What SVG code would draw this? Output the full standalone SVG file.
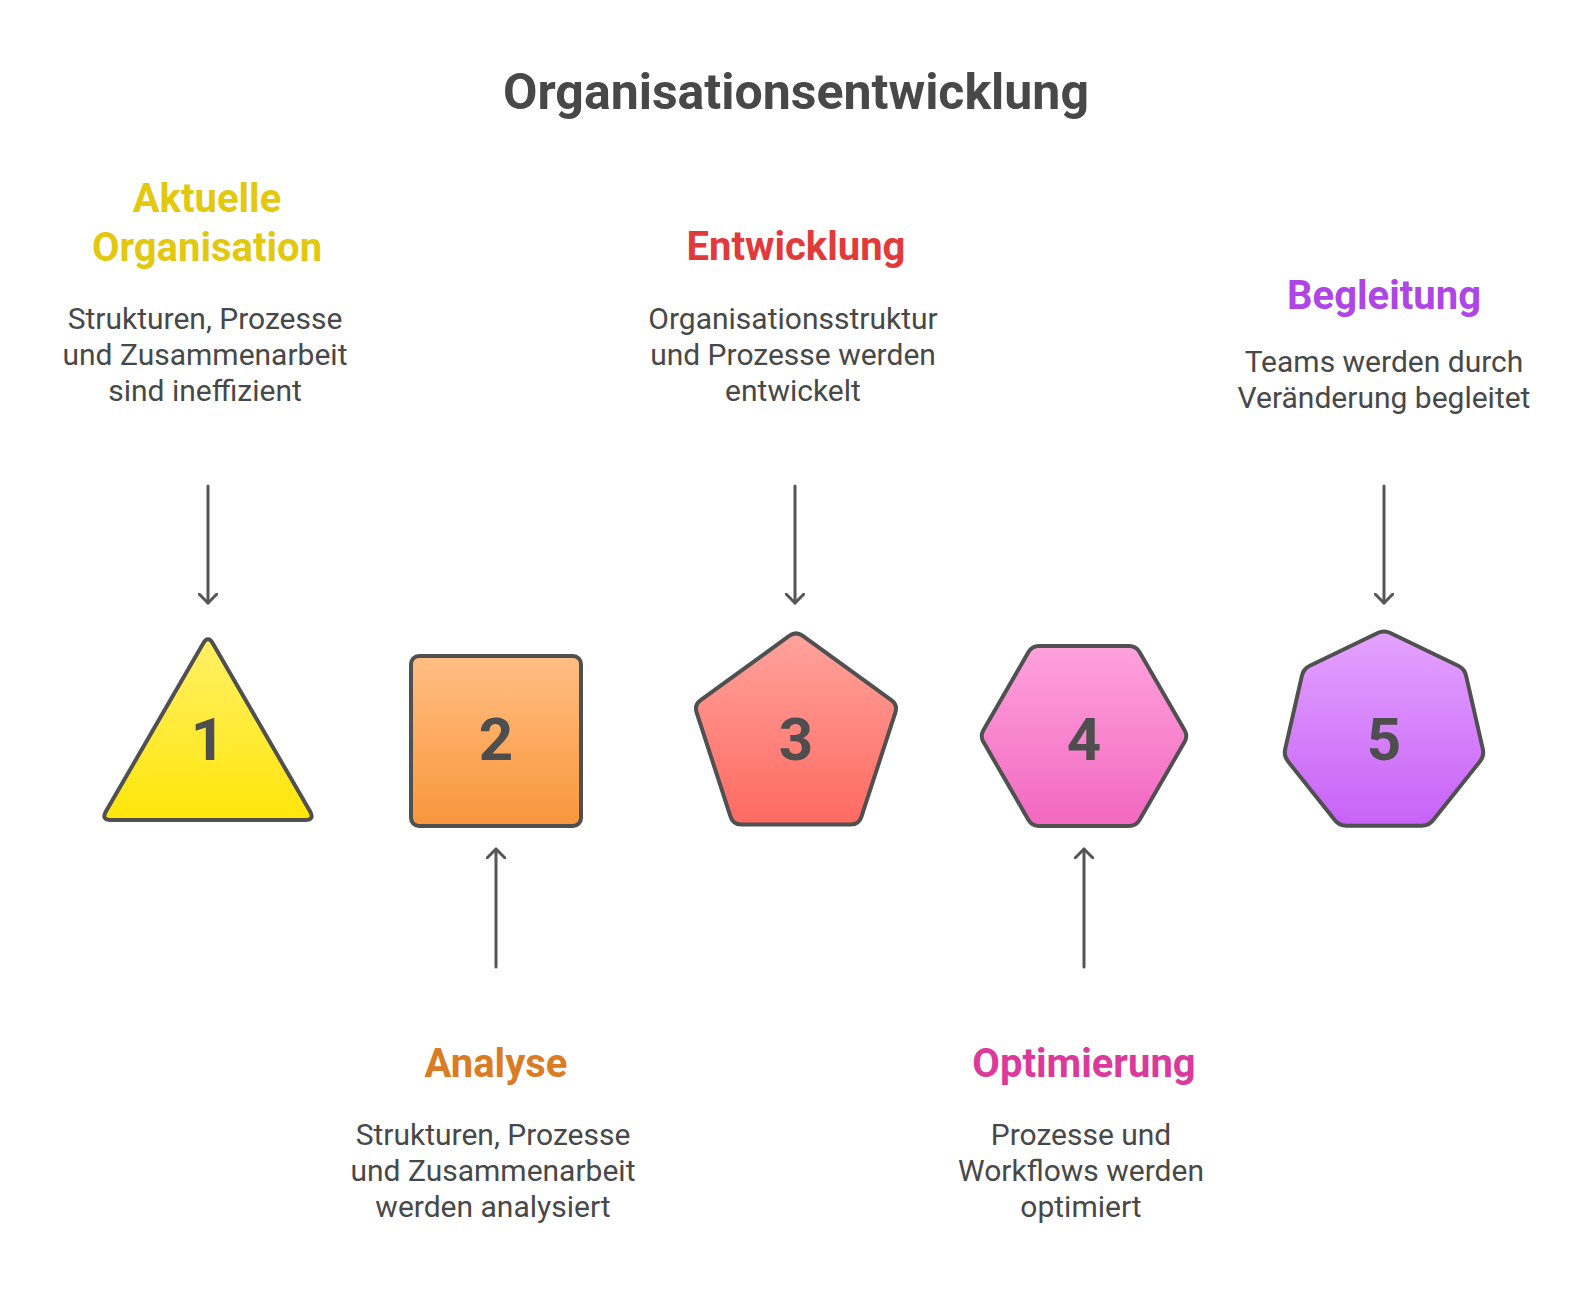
<svg xmlns="http://www.w3.org/2000/svg" width="1596" height="1298" viewBox="0 0 1596 1298">
  <defs>
    <linearGradient id="g1" x1="0" y1="0" x2="0" y2="1"><stop offset="0" stop-color="#FFF066"/><stop offset="1" stop-color="#FFE60A"/></linearGradient>
    <linearGradient id="g2" x1="0" y1="0" x2="0" y2="1"><stop offset="0" stop-color="#FFBE82"/><stop offset="1" stop-color="#F9973B"/></linearGradient>
    <linearGradient id="g3" x1="0" y1="0" x2="0" y2="1"><stop offset="0" stop-color="#FFA39C"/><stop offset="1" stop-color="#FF6A62"/></linearGradient>
    <linearGradient id="g4" x1="0" y1="0" x2="0" y2="1"><stop offset="0" stop-color="#FFA2DD"/><stop offset="1" stop-color="#F268C0"/></linearGradient>
    <linearGradient id="g5" x1="0" y1="0" x2="0" y2="1"><stop offset="0" stop-color="#E4A3FF"/><stop offset="1" stop-color="#C862F8"/></linearGradient>
    <marker id="ah" viewBox="0 0 20 20" refX="10" refY="10" markerWidth="20" markerHeight="20" markerUnits="userSpaceOnUse" orient="auto">
      <path d="M0,0 L10,10 L0,20" fill="none" stroke="#555555" stroke-width="3" stroke-linecap="round" stroke-linejoin="round"/>
    </marker>
  </defs>
  <style>
    .title { font-family: Roboto, "Liberation Sans", sans-serif; font-weight: 700; font-size: 50px; fill: #484848; text-anchor: middle; }
    .head { font-family: Roboto, "Liberation Sans", sans-serif; font-weight: 700; font-size: 40px; text-anchor: middle; }
    .body { font-family: Roboto, "Liberation Sans", sans-serif; font-weight: 400; font-size: 30px; fill: #484848; text-anchor: middle; }
    .num { font-family: Roboto, "Liberation Sans", sans-serif; font-weight: 700; font-size: 60px; fill: #4E4E4E; text-anchor: middle; }
    .shape { stroke: #505050; stroke-width: 4; stroke-linejoin: round; }
    .conn { stroke: #555555; stroke-width: 3; fill: none; stroke-linecap: round; marker-end: url(#ah); }
  </style>
  <rect width="1596" height="1298" fill="#FFFFFF"/>
  <text class="title" x="796" y="109">Organisationsentwicklung</text>

  <g id="node1">
    <path class="shape" fill="url(#g1)" d="M213.0,643.7 L310.0,811.3 Q315,820 305,820 L111,820 Q101,820 106.0,811.3 L203.0,643.7 Q208,635 213.0,643.7 Z"/>
    <text class="num" x="208" y="760">1</text>
    <text class="head" fill="#E3C810"><tspan x="207" y="212">Aktuelle</tspan><tspan x="207" y="261">Organisation</tspan></text>
    <text class="body"><tspan x="205" y="329">Strukturen, Prozesse</tspan><tspan x="205" y="365">und Zusammenarbeit</tspan><tspan x="205" y="401">sind ineffizient</tspan></text>
  </g>

  <g id="node2">
    <rect class="shape" fill="url(#g2)" x="411" y="656" width="170" height="170" rx="8"/>
    <text class="num" x="496" y="760">2</text>
    <text class="head" fill="#DA7C24" x="496" y="1077">Analyse</text>
    <text class="body"><tspan x="493" y="1145">Strukturen, Prozesse</tspan><tspan x="493" y="1181">und Zusammenarbeit</tspan><tspan x="493" y="1217">werden analysiert</tspan></text>
  </g>

  <g id="node3">
    <path class="shape" fill="url(#g3)" d="M802.47,635.70 L891.33,700.20 Q897.8,704.9 895.33,712.51 L861.37,816.99 Q858.9,824.6 850.9,824.6 L741.1,824.6 Q733.1,824.6 730.63,816.99 L696.67,712.51 Q694.2,704.9 700.67,700.20 L789.53,635.70 Q796,631 802.47,635.70 Z"/>
    <text class="num" x="796" y="760">3</text>
    <text class="head" fill="#E23A3A" x="796" y="260">Entwicklung</text>
    <text class="body"><tspan x="793" y="329">Organisationsstruktur</tspan><tspan x="793" y="365">und Prozesse werden</tspan><tspan x="793" y="401">entwickelt</tspan></text>
  </g>

  <g id="node4">
    <path class="shape" fill="url(#g4)" d="M983.5,729.94 L1028.5,652.06 Q1032,646 1039,646 L1129,646 Q1136,646 1139.5,652.06 L1184.5,729.94 Q1188,736 1184.5,742.06 L1139.5,819.94 Q1136,826 1129,826 L1039,826 Q1032,826 1028.5,819.94 L983.5,742.06 Q980,736 983.5,729.94 Z"/>
    <text class="num" x="1084" y="760">4</text>
    <text class="head" fill="#DB3A9C" x="1084" y="1077">Optimierung</text>
    <text class="body"><tspan x="1081" y="1145">Prozesse und</tspan><tspan x="1081" y="1181">Workflows werden</tspan><tspan x="1081" y="1217">optimiert</tspan></text>
  </g>

  <g id="node5">
    <path class="shape" fill="url(#g5)" d="M1390.31,633.04 L1458.19,665.76 Q1464.5,668.8 1466.06,675.62 L1482.84,749.08 Q1484.4,755.9 1480.04,761.37 L1433.06,820.33 Q1428.7,825.8 1421.7,825.8 L1346.3,825.8 Q1339.3,825.8 1334.94,820.33 L1287.96,761.37 Q1283.6,755.9 1285.16,749.08 L1301.94,675.62 Q1303.5,668.8 1309.81,665.76 L1377.69,633.04 Q1384,630 1390.31,633.04 Z"/>
    <text class="num" x="1384" y="760">5</text>
    <text class="head" fill="#B045E6" x="1384" y="309">Begleitung</text>
    <text class="body"><tspan x="1384" y="372">Teams werden durch</tspan><tspan x="1384" y="408">Veränderung begleitet</tspan></text>
  </g>

  <g id="connectors">
    <line class="conn" x1="208" y1="486" x2="208" y2="603"/>
    <line class="conn" x1="496" y1="967" x2="496" y2="849"/>
    <line class="conn" x1="795" y1="486" x2="795" y2="603"/>
    <line class="conn" x1="1084" y1="967" x2="1084" y2="849"/>
    <line class="conn" x1="1384" y1="486" x2="1384" y2="603"/>
  </g>
</svg>
